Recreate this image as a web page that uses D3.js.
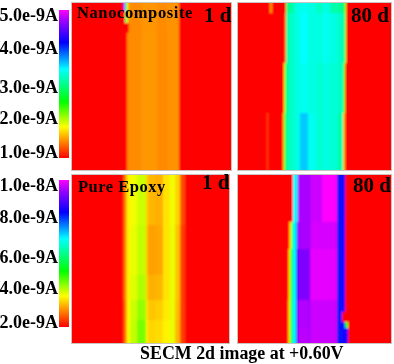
<!DOCTYPE html>
<html lang="en">

<head>
    <meta charset="UTF-8">
    <title>SECM 2d image</title>
    <script src="https://cdn.jsdelivr.net/npm/d3@7"></script>
    <style>
        html, body { margin: 0; padding: 0; background: #fff; }
        svg { display: block; }
        text { font-family: "Liberation Serif", serif; font-weight: bold; fill: #000; }
    </style>
</head>

<body>
    <script>
        // current in units of 1e-9 A
        const nanoTicks = [1, 2, 3, 4, 5]
        const nanoTickLabels = ["1.0e-9A", "2.0e-9A", "3.0e-9A", "4.0e-9A", "5.0e-9A"]
        const epoxyTicks = [2, 4, 6, 8, 10]
        const epoxyTickLabels = ["2.0e-9A", "4.0e-9A", "6.0e-9A", "8.0e-9A", "1.0e-8A"]

        // nanocomposite, 1 d
        const nano1dX = [0, 51, 52, 53, 54, 55, 56, 57, 70, 85, 95, 107, 159]
        const nano1dY = [0, 8, 20, 30, 167]
        const nano1dValues = [
            [1, 5, 4.2, 3.3, 2.4, 1.9, 1.6, 1.46, 1.49, 1.46, 1.48, 1],
            [1, 1, 1, 3, 2.5, 1.85, 1.5, 1.46, 1.49, 1.46, 1.48, 1],
            [1, 1, 1, 1, 1, 1, 1, 1.46, 1.49, 1.46, 1.48, 1],
            [1, 1, 1, 1, 1, 1.42, 1.46, 1.46, 1.5, 1.45, 1.48, 1]
        ]

        // nanocomposite, 80 d
        const nano80dX = [0, 29, 30, 32, 34, 45, 46, 47, 48, 50, 56, 62, 70, 78, 85, 92, 100, 105, 107, 108, 153]
        const nano80dY = [0, 10, 60, 110, 167]
        const nano80dValues = [
            [1, 1, 1, 1.5, 1, 1, 1, 1, 2.9, 3.05, 3.3, 3.35, 3.3, 3.2, 3.3, 3.1, 3.05, 2.8, 2.1, 1],
            [1, 1, 1, 1, 1, 1, 1, 1.4, 3, 3.2, 3.3, 3.4, 3.3, 3.3, 3.35, 3.3, 3.2, 3, 2.1, 1],
            [1, 1, 1, 1, 1, 1, 1.9, 2.6, 3, 3.2, 3.3, 3.35, 3.3, 3.25, 3.3, 3.25, 3.2, 2.3, 1, 1],
            [1, 1.25, 1, 1, 1, 1.6, 2.2, 2.8, 3.05, 3.2, 3.3, 3.55, 3.35, 3.25, 3.3, 3.25, 3.1, 1.6, 1, 1]
        ]

        // pure epoxy, 1 d
        const epoxy1dX = [0, 51, 53, 55, 58, 65, 74, 76, 83, 91, 98, 103, 108, 113, 157]
        const epoxy1dY = [0, 50, 100, 125, 145, 168]
        const epoxy1dValues = [
            [2, 2.5, 3.1, 3.6, 3.75, 3.95, 3.4, 3.2, 3.15, 3.5, 3.75, 3.4, 2.5, 2],
            [2, 2.5, 3.1, 3.6, 3.8, 4, 3.3, 3.05, 3.1, 3.5, 3.8, 3.3, 2.4, 2],
            [2, 2.5, 3.1, 3.6, 3.85, 4.1, 3.4, 3.15, 3.2, 3.5, 3.8, 3.3, 2.4, 2],
            [2, 2.4, 3, 3.65, 3.95, 4.25, 3.5, 3.3, 3.35, 3.55, 3.8, 3.25, 2.4, 2],
            [2, 2.4, 3, 3.7, 4, 4.4, 3.6, 3.4, 3.45, 3.6, 3.8, 3.2, 2.4, 2]
        ]

        // pure epoxy, 80 d
        const epoxy80dX = [0, 50, 51, 52, 53, 54, 55, 58, 59, 60, 71, 72, 84, 99, 104, 107, 110, 153]
        const epoxy80dY = [0, 47, 74, 125, 137, 147, 153, 168]
        const epoxy80dValues = [
            [2, 2, 2, 2, 2, 2, 6.8, 6.8, 7.4, 9.5, 9.2, 9.7, 10, 8.1, 8.4, 2, 2],
            [2, 2, 2.8, 3.7, 4.6, 5.6, 6.8, 7.4, 8.4, 9.5, 9.2, 9.75, 9.75, 8.1, 8.4, 2, 2],
            [2, 2.6, 3.7, 4.6, 5.2, 6, 6.8, 8.1, 8.6, 9.2, 9, 9.85, 9.85, 8.1, 8.4, 2, 2],
            [2, 3, 3.8, 4.6, 5.4, 6.2, 6.8, 8.1, 8.8, 9.55, 9.2, 9.7, 9.7, 8.1, 8.4, 2, 2],
            [2, 3, 3.8, 4.6, 5.4, 6.2, 6.8, 8.1, 8.8, 9.55, 9.2, 9.7, 9.7, 8.1, 2, 2, 2],
            [2, 3, 3.8, 4.6, 5.4, 6.2, 6.8, 8.1, 8.8, 9.55, 9.2, 9.7, 9.7, 8.1, 8.4, 5, 2],
            [2, 3, 3.8, 4.6, 5.4, 6.2, 6.8, 8.1, 8.8, 9.6, 9.3, 9.7, 9.7, 8.1, 8.4, 8.4, 2]
        ]

        const width = 394
        const height = 364
        const bleed = 5 // outer cells run past the clip so the blur does not fade at the border

        // rainbow map used by both colour bars, 0 = bottom of the bar
        const rainbow = d3.scaleLinear()
            .domain([0, 0.21, 0.38, 0.6, 0.78, 0.93, 1])
            .range(["#ff0000", "#ffff00", "#00ff00", "#00ffff", "#0000ff", "#a000ff", "#ff00ff"])
            .clamp(true)

        const svg = d3.select("body").append("svg")
            .attr("width", width)
            .attr("height", height)

        const defs = svg.append("defs")
        defs.append("filter")
            .attr("id", "soft")
            .attr("x", "-5%").attr("y", "-5%")
            .attr("width", "110%").attr("height", "110%")
            .append("feGaussianBlur")
            .attr("stdDeviation", 0.85)
        defs.append("filter")
            .attr("id", "softText")
            .attr("x", "-5%").attr("y", "-20%")
            .attr("width", "110%").attr("height", "140%")
            .append("feGaussianBlur")
            .attr("stdDeviation", 0.35)

        function panel(id, box, xEdges, yEdges, values, domain) {
            const xsc = d3.scaleLinear()
                .domain([0, xEdges[xEdges.length - 1]])
                .range([box.left, box.right])
            const ysc = d3.scaleLinear()
                .domain([0, yEdges[yEdges.length - 1]])
                .range([box.top, box.bottom])
            const norm = d3.scaleLinear().domain(domain).range([0, 1])

            const x0 = c => c === 0 ? box.left - bleed : xsc(xEdges[c])
            const x1 = c => c === xEdges.length - 2 ? box.right + bleed : xsc(xEdges[c + 1])
            const y0 = r => r === 0 ? box.top - bleed : ysc(yEdges[r])
            const y1 = r => r === yEdges.length - 2 ? box.bottom + bleed : ysc(yEdges[r + 1])

            defs.append("clipPath").attr("id", id)
                .append("rect")
                .attr("x", box.left).attr("y", box.top)
                .attr("width", box.right - box.left)
                .attr("height", box.bottom - box.top)

            const cells = values.flatMap((row, r) => row.map((v, c) => ({ r, c, v })))

            svg.append("g")
                .attr("clip-path", `url(#${id})`)
                .append("g")
                .attr("filter", "url(#soft)")
                .selectAll("rect")
                .data(cells)
                .enter().append("rect")
                .attr("x", d => x0(d.c))
                .attr("y", d => y0(d.r))
                .attr("width", d => x1(d.c) - x0(d.c))
                .attr("height", d => y1(d.r) - y0(d.r))
                .attr("fill", d => rainbow(norm(d.v)))
                .attr("shape-rendering", "crispEdges")

            svg.append("rect")
                .attr("x", box.left - 0.5).attr("y", box.top - 0.5)
                .attr("width", box.right - box.left + 1)
                .attr("height", box.bottom - box.top + 1)
                .attr("fill", "none")
                .attr("stroke", "#c9c4c0")
        }

        function colorBar(box, ticks, labels, tickPos) {
            const ysc = d3.scaleLinear().domain([0, 1]).range([box.bottom, box.top])
            const steps = d3.range(box.top, box.bottom)
            svg.append("g")
                .selectAll("rect")
                .data(steps)
                .enter().append("rect")
                .attr("x", box.left)
                .attr("y", d => d)
                .attr("width", box.right - box.left)
                .attr("height", 1)
                .attr("fill", d => rainbow(ysc.invert(d + 0.5)))

            const tsc = d3.scaleLinear().domain(ticks).range(tickPos)
            const axis = svg.append("g")
                .attr("transform", "translate(58,0)")
                .call(d3.axisLeft(tsc).tickValues(ticks).tickSize(0).tickPadding(0)
                    .tickFormat((d, i) => labels[i]))
            axis.select(".domain").remove()
            axis.selectAll("text")
                .attr("filter", "url(#softText)")
                .style("font-size", "18px")
        }

        function label(txt, x, y, size, spacing) {
            svg.append("text")
                .attr("x", x)
                .attr("y", y)
                .attr("filter", "url(#softText)")
                .style("font-size", size + "px")
                .style("letter-spacing", spacing + "px")
                .text(txt)
        }

        panel("tl", { left: 72, right: 231, top: 3, bottom: 170 }, nano1dX, nano1dY, nano1dValues, [1, 5])
        panel("tr", { left: 238, right: 391, top: 3, bottom: 170 }, nano80dX, nano80dY, nano80dValues, [1, 5])
        panel("bl", { left: 72, right: 229, top: 175, bottom: 343 }, epoxy1dX, epoxy1dY, epoxy1dValues, [2, 10])
        panel("br", { left: 238, right: 391, top: 175, bottom: 343 }, epoxy80dX, epoxy80dY, epoxy80dValues, [2, 10])

        colorBar({ left: 59, right: 69, top: 10, bottom: 158 }, nanoTicks, nanoTickLabels, [152, 118, 87, 48, 15])
        colorBar({ left: 59, right: 69, top: 180, bottom: 327 }, epoxyTicks, epoxyTickLabels, [322, 288, 257, 217, 185])

        label("Nanocomposite", 77, 18, 16.5, 0.6)
        label("1 d", 204, 22, 21, 0)
        label("80 d", 351, 22, 21, 0)
        label("Pure Epoxy", 78, 192, 16.5, 0.5)
        label("1 d", 202, 189, 21, 0)
        label("80 d", 353, 192, 21, 0)
        label("SECM 2d image at +0.60V", 140, 359, 17.9, 0)
    </script>
</body>

</html>
